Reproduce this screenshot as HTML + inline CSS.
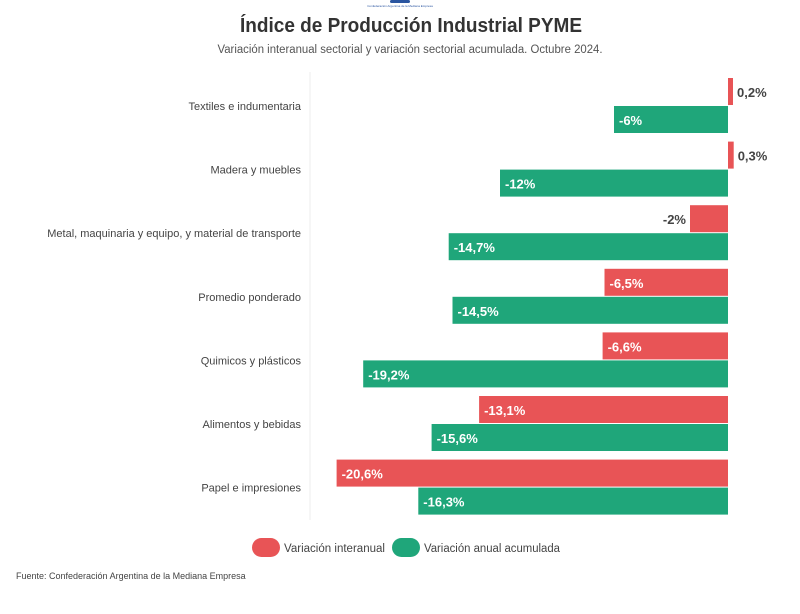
<!DOCTYPE html>
<html><head><meta charset="utf-8"><style>
body{margin:0;background:#fff;font-family:"Liberation Sans",sans-serif;}
svg text{font-family:"Liberation Sans",sans-serif;}
</style></head><body>
<svg width="800" height="609" xmlns="http://www.w3.org/2000/svg" id="chart">
<rect x="362" y="0" width="76" height="8" fill="#fff"/>
<rect x="390" y="0" width="20" height="3" rx="1.5" fill="#2a55a0"/>
<text x="400" y="7" font-size="3" fill="#2a55a0" text-anchor="middle">Confederación Argentina de la Mediana Empresa</text>
<text x="411" y="32" font-size="20" font-weight="bold" fill="#333" text-anchor="middle" textLength="342" lengthAdjust="spacingAndGlyphs">Índice de Producción Industrial PYME</text>
<text x="410" y="53" font-size="11.5" fill="#555" text-anchor="middle" textLength="385" lengthAdjust="spacingAndGlyphs">Variación interanual sectorial y variación sectorial acumulada. Octubre 2024.</text>
<line x1="310" y1="72" x2="310" y2="520" stroke="#eee" stroke-width="1"/>
<g id="bars"></g>
<g>
<rect x="252" y="538" width="28" height="19" rx="9.5" fill="#e85456"/>
<text x="284" y="552" font-size="11.5" fill="#444" textLength="101" lengthAdjust="spacingAndGlyphs">Variación interanual</text>
<rect x="392" y="538" width="28" height="19" rx="9.5" fill="#1fa67a"/>
<text x="424" y="552" font-size="11.5" fill="#444" textLength="136" lengthAdjust="spacingAndGlyphs">Variación anual acumulada</text>
</g>
<text x="16" y="579" font-size="9" fill="#444">Fuente: Confederación Argentina de la Mediana Empresa</text>
</svg>
<script>
const categories=["Textiles e indumentaria","Madera y muebles","Metal, maquinaria y equipo, y material de transporte","Promedio ponderado","Quimicos y plásticos","Alimentos y bebidas","Papel e impresiones"];
const interanual=[0.2,0.3,-2,-6.5,-6.6,-13.1,-20.6];
const acumulada=[-6,-12,-14.7,-14.5,-19.2,-15.6,-16.3];
const interanualLabels=["0,2%","0,3%","-2%","-6,5%","-6,6%","-13,1%","-20,6%"];
const acumuladaLabels=["-6%","-12%","-14,7%","-14,5%","-19,2%","-15,6%","-16,3%"];
const NS="http://www.w3.org/2000/svg";
const g=document.getElementById('bars');
const x0=728, k=19.0;
function xs(v){return x0+v*k;}
function yRow(i){return 78+i*63.6;}
function mk(t,a){const e=document.createElementNS(NS,t);for(const n in a)e.setAttribute(n,a[n]);g.appendChild(e);return e;}
categories.forEach((c,i)=>{
  const y=yRow(i);
  const t=mk('text',{x:301,y:y+32,'font-size':11,fill:'#444','text-anchor':'end'});
  t.textContent=c;
  
  
  [[interanual[i],interanualLabels[i],'#e85456',y,'interanual'],[acumulada[i],acumuladaLabels[i],'#1fa67a',y+28,'acumulada']].forEach(([v,l,col,yy,s])=>{
    const xv=xs(v);let x=Math.min(x0,xv),w=Math.abs(xv-x0);
    if(v>0)w=Math.max(w,5);
    const r=mk('rect',{x:x,y:yy,width:w,height:27,fill:col});
    
    
    let lx,anchor,fill;
    if(v>0){lx=x0+w+4;anchor='start';fill='#444';}
    else if(w<60){lx=x-4;anchor='end';fill='#444';}
    else{lx=x+5;anchor='start';fill='#fff';}
    const tl=mk('text',{x:lx,y:yy+19,'font-size':13,'font-weight':'bold',fill:fill,'text-anchor':anchor});
    tl.textContent=l;
    
    
  });
});
</script>
</body></html>
